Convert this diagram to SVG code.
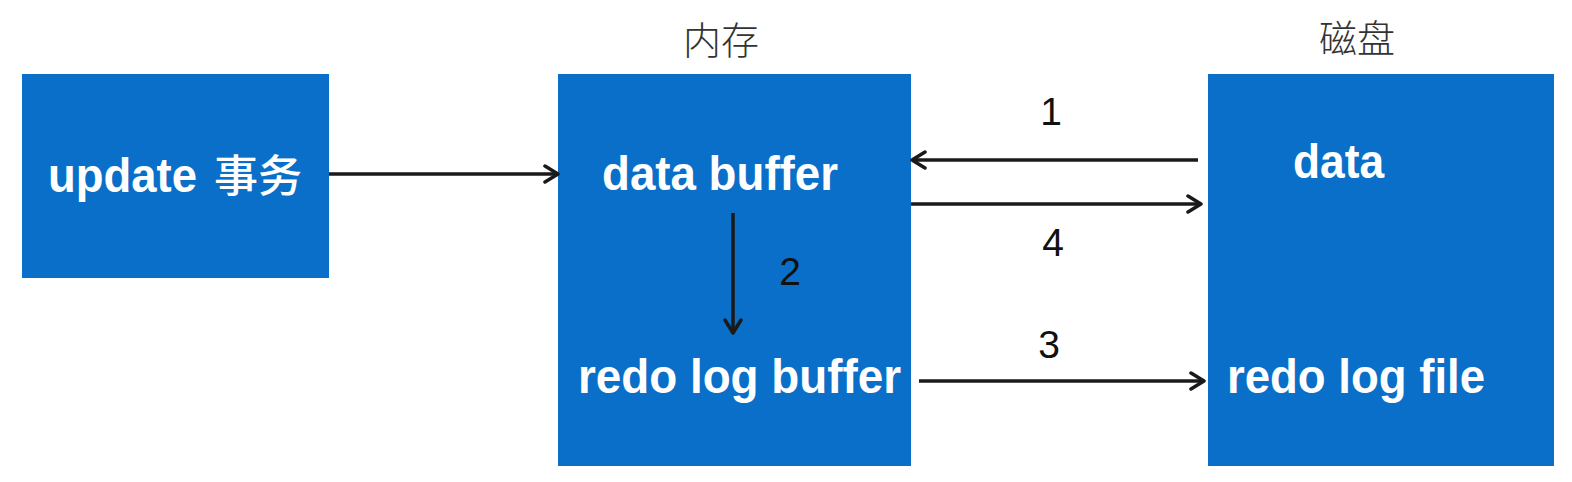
<svg xmlns="http://www.w3.org/2000/svg" width="1572" height="482" viewBox="0 0 1572 482">
<style>
.box{fill:#0A6FC8}
.t{font-family:"Liberation Sans",Arial,"Noto Sans CJK SC",sans-serif;font-weight:bold;font-size:49px;fill:#fff}
.cj{font-family:"Noto Sans CJK SC",sans-serif;font-weight:500;font-size:44px}
.n{font-family:"Liberation Sans",Arial,sans-serif;font-size:39px;fill:#111;text-anchor:middle}
.h{font-family:"Noto Sans CJK SC",sans-serif;font-size:38px;font-weight:300;fill:#333;text-anchor:middle}
.c{stroke:#1a1a1a;stroke-width:3.5;fill:none}
</style>
<defs>
<marker id="ah" viewBox="0 0 20 20" refX="17" refY="10" markerWidth="20" markerHeight="20" markerUnits="userSpaceOnUse" orient="auto">
<path d="M4,2 L17,10 L4,18" fill="none" stroke="#1a1a1a" stroke-width="3.5" stroke-linecap="round" stroke-linejoin="round"/>
</marker>
</defs>
<g id="title-mem"><text class="h" x="721" y="54">内存</text></g>
<g id="title-disk"><text class="h" x="1357" y="52">磁盘</text></g>
<g id="node-update">
<rect class="box" x="22" y="74" width="307" height="204"/>
<text class="t" x="48" y="192"><tspan textLength="149" lengthAdjust="spacingAndGlyphs">update</tspan><tspan class="cj" x="214">事务</tspan></text>
</g>
<g id="node-memory">
<rect class="box" x="558" y="74" width="353" height="392"/>
<text class="t" x="602" y="190" textLength="236" lengthAdjust="spacingAndGlyphs">data buffer</text>
<text class="t" x="578" y="393" textLength="323" lengthAdjust="spacingAndGlyphs">redo log buffer</text>
</g>
<g id="node-disk">
<rect class="box" x="1208" y="74" width="346" height="392"/>
<text class="t" x="1293" y="178" textLength="91" lengthAdjust="spacingAndGlyphs">data</text>
<text class="t" x="1227" y="393" textLength="258" lengthAdjust="spacingAndGlyphs">redo log file</text>
</g>
<g id="connectors">
<line class="c" x1="329" y1="174" x2="558" y2="174" marker-end="url(#ah)"/>
<line class="c" x1="1198" y1="160" x2="912" y2="160" marker-end="url(#ah)"/>
<line class="c" x1="911" y1="204" x2="1201" y2="204" marker-end="url(#ah)"/>
<line class="c" x1="733" y1="213" x2="733" y2="333" marker-end="url(#ah)"/>
<line class="c" x1="919" y1="381" x2="1204" y2="381" marker-end="url(#ah)"/>
<text class="n" x="1051" y="125">1</text>
<text class="n" x="790" y="285">2</text>
<text class="n" x="1049" y="358">3</text>
<text class="n" x="1053" y="256">4</text>
</g>
</svg>
